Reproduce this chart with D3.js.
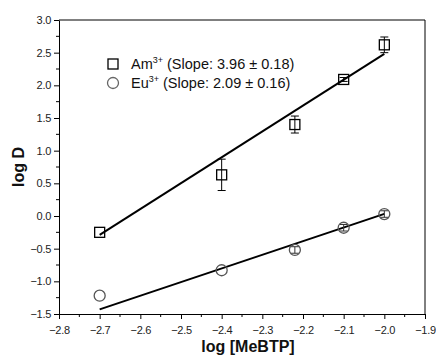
<!DOCTYPE html>
<html>
<head>
<meta charset="utf-8">
<script src="https://cdn.jsdelivr.net/npm/d3@7"></script>
<style>
  body { margin: 0; background: #fff; }
  svg { display: block; font-family: "Liberation Sans", Arial, sans-serif; }
</style>
</head>
<body>
<svg id="chart" width="436" height="358"></svg>
<script>
// Data
const amX = [-2.7, -2.4, -2.22, -2.1, -2.0];
const amY = [-0.25, 0.63, 1.40, 2.09, 2.62];
const amErr = [0.0, 0.24, 0.13, 0.03, 0.12];
const euX = [-2.7, -2.4, -2.22, -2.1, -2.0];
const euY = [-1.22, -0.83, -0.52, -0.18, 0.03];
const euErr = [0.0, 0.0, 0.05, 0.05, 0.05];
const amFit = { slope: 3.96, x0: -2.7, y0: -0.29, x1: -2.0 };
const euFit = { slope: 2.09, x0: -2.7, y0: -1.43, x1: -2.0 };
const xTicks = [-2.8, -2.7, -2.6, -2.5, -2.4, -2.3, -2.2, -2.1, -2.0, -1.9];
const yTicks = [-1.5, -1.0, -0.5, 0.0, 0.5, 1.0, 1.5, 2.0, 2.5, 3.0];
const legendLabels = [
  { ion: "Am", sup: "3+", text: " (Slope: 3.96 \u00b1 0.18)", shape: "square" },
  { ion: "Eu", sup: "3+", text: " (Slope: 2.09 \u00b1 0.16)", shape: "circle" }
];

const svg = d3.select("#chart");
const L = 59, R = 425, T = 20, B = 314;
const x = d3.scaleLinear().domain([-2.8, -1.9]).range([L, R]);
const y = d3.scaleLinear().domain([-1.5, 3.0]).range([B, T]);

// Frame (top and right)
svg.append("line").attr("x1", L).attr("x2", R).attr("y1", T).attr("y2", T).attr("stroke", "#000").attr("stroke-width", 1);
svg.append("line").attr("x1", R).attr("x2", R).attr("y1", T).attr("y2", B).attr("stroke", "#000").attr("stroke-width", 1);

// Axes
const fmt = d3.format(".1f");
const xAxis = d3.axisBottom(x).tickValues(xTicks).tickFormat(fmt).tickSize(5).tickSizeOuter(0);
const yAxis = d3.axisLeft(y).tickValues(yTicks).tickFormat(fmt).tickSize(5).tickSizeOuter(0);
const gx = svg.append("g").attr("transform", `translate(0,${B})`).call(xAxis);
const gy = svg.append("g").attr("transform", `translate(${L},0)`).call(yAxis);
[gx, gy].forEach(g => {
  g.select(".domain").attr("stroke", "#000").attr("stroke-width", 1);
  g.selectAll(".tick line").attr("stroke", "#000").attr("stroke-width", 1);
  g.selectAll(".tick text").attr("fill", "#222").attr("font-size", 11)
    .attr("font-family", "'Liberation Sans', Arial, sans-serif").attr("letter-spacing", "-0.3px");
});
gx.selectAll(".tick text").attr("dy", "1.1em");
gy.selectAll(".tick text").attr("x", -8);

// Minor ticks
const xMinor = d3.range(0, 9).map(i => -2.8 + 0.05 + i * 0.1);
const yMinor = d3.range(0, 9).map(i => -1.5 + 0.25 + i * 0.5);
svg.append("g").selectAll("line").data(xMinor).join("line")
  .attr("x1", d => x(d)).attr("x2", d => x(d)).attr("y1", B).attr("y2", B + 3).attr("stroke", "#000");
svg.append("g").selectAll("line").data(yMinor).join("line")
  .attr("x1", L).attr("x2", L - 3).attr("y1", d => y(d)).attr("y2", d => y(d)).attr("stroke", "#000");

// Axis titles
svg.append("text").attr("x", 248).attr("y", 352).attr("text-anchor", "middle")
  .attr("font-size", 16).attr("font-weight", "bold").attr("fill", "#111").text("log [MeBTP]");
svg.append("text").attr("transform", "translate(24,167) rotate(-90)").attr("text-anchor", "middle")
  .attr("font-size", 16).attr("font-weight", "bold").attr("fill", "#111").text("log D");

// Fit lines
[amFit, euFit].forEach(f => {
  svg.append("line")
    .attr("x1", x(f.x0)).attr("y1", y(f.y0))
    .attr("x2", x(f.x1)).attr("y2", y(f.y0 + f.slope * (f.x1 - f.x0)))
    .attr("stroke", "#000").attr("stroke-width", 2);
});

// Error bars
function errBars(xs, ys, es, color) {
  const g = svg.append("g").attr("stroke", color).attr("stroke-width", 1);
  xs.forEach((xv, i) => {
    if (es[i] <= 0) return;
    const cx = x(xv), y1 = y(ys[i] + es[i]), y2 = y(ys[i] - es[i]);
    g.append("line").attr("x1", cx).attr("x2", cx).attr("y1", y1).attr("y2", y2);
    g.append("line").attr("x1", cx - 4).attr("x2", cx + 4).attr("y1", y1).attr("y2", y1);
    g.append("line").attr("x1", cx - 4).attr("x2", cx + 4).attr("y1", y2).attr("y2", y2);
  });
}
errBars(amX, amY, amErr, "#000");
errBars(euX, euY, euErr, "#333");

// Points
svg.append("g").selectAll("rect").data(amX).join("rect")
  .attr("x", (d, i) => x(d) - 5).attr("y", (d, i) => y(amY[i]) - 5)
  .attr("width", 10).attr("height", 10)
  .attr("fill", "none").attr("stroke", "#000").attr("stroke-width", 1.3);
svg.append("g").selectAll("circle").data(euX).join("circle")
  .attr("cx", d => x(d)).attr("cy", (d, i) => y(euY[i])).attr("r", 5.5)
  .attr("fill", "none").attr("stroke", "#555").attr("stroke-width", 1.3);

// Legend
const lg = svg.append("g");
legendLabels.forEach((d, i) => {
  const cy = 64 + i * 19;
  if (d.shape === "square") {
    lg.append("rect").attr("x", 108).attr("y", cy - 5).attr("width", 10).attr("height", 10)
      .attr("fill", "none").attr("stroke", "#000").attr("stroke-width", 1.3);
  } else {
    lg.append("circle").attr("cx", 113).attr("cy", cy).attr("r", 5.5)
      .attr("fill", "none").attr("stroke", "#666").attr("stroke-width", 1.3);
  }
  const t = lg.append("text").attr("x", 131).attr("y", cy + 5)
    .attr("font-size", 14.5).attr("fill", "#111");
  t.append("tspan").text(d.ion);
  t.append("tspan").attr("dy", -6).attr("font-size", 9).text(d.sup);
  t.append("tspan").attr("dy", 6).text(d.text);
});
</script>
</body>
</html>
